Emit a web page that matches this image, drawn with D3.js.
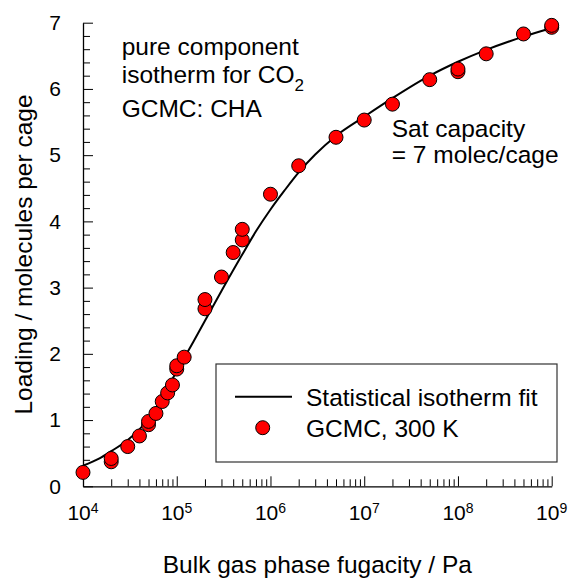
<!DOCTYPE html>
<html>
<head>
<meta charset="utf-8">
<script src="https://cdn.jsdelivr.net/npm/d3@7"></script>
<style>
  html, body { margin: 0; padding: 0; background: #fff; }
  svg { display: block; font-family: "Liberation Sans", Arial, sans-serif; }
</style>
</head>
<body>
<svg id="chart" width="573" height="582"></svg>
<script>
// GCMC simulation points: bulk fugacity (Pa) and loading (molecules per cage)
const gcmcFugacity = [1e4, 2e4, 2e4, 3e4, 4e4, 5e4, 5e4, 6e4, 7e4, 8e4, 9e4,
  1e5, 1e5, 1.2e5, 2e5, 2e5, 3e5, 4e5, 5e5, 5e5, 1e6, 2e6, 5e6, 1e7, 2e7,
  5e7, 1e8, 1e8, 2e8, 5e8, 1e9, 1e9];
const gcmcLoading = [0.21, 0.37, 0.42, 0.60, 0.76, 0.93, 0.98, 1.10, 1.28, 1.41, 1.53,
  1.77, 1.82, 1.95, 2.68, 2.82, 3.16, 3.53, 3.72, 3.88, 4.41, 4.84, 5.27, 5.53, 5.77,
  6.14, 6.26, 6.30, 6.53, 6.83, 6.93, 6.96];

// Statistical isotherm fit curve
const fitFugacity = [1e4, 1.5e4, 2e4, 3e4, 4e4, 5e4, 7e4, 1e5, 1.5e5, 2e5, 3e5, 5e5,
  7e5, 1e6, 1.4e6, 2e6, 3e6, 5e6, 1e7, 2e7, 5e7, 1e8, 2e8, 5e8, 1e9];
const fitLoading = [0.31, 0.42, 0.53, 0.70, 0.86, 1.02, 1.33, 1.74, 2.18, 2.50, 2.95, 3.50,
  3.85, 4.18, 4.46, 4.74, 5.01, 5.29, 5.58, 5.86, 6.20, 6.41, 6.59, 6.79, 6.92];

const xMajorExponents = [4, 5, 6, 7, 8, 9];
const yTickValues = [0, 1, 2, 3, 4, 5, 6, 7];

const svg = d3.select("#chart");
const x = d3.scaleLog().domain([1e4, 1e9]).range([83, 551.7]);
const y = d3.scaleLinear().domain([0, 7]).range([486.3, 22.7]);

// minor ticks: 2..9 within each decade, and every 0.2 on the loading axis
const xMinor = [];
for (let e = 4; e < 9; e++) for (let m = 2; m <= 9; m++) xMinor.push(m * Math.pow(10, e));
const yMinor = d3.range(0, 7.001, 0.2).filter(v => Math.abs(v - Math.round(v)) > 1e-6);

const axisColor = "#000";
const textFont = 24.5;

// x axis
const gx = svg.append("g").attr("transform", `translate(0,${y(0)})`);
gx.call(d3.axisBottom(x).tickValues(xMinor).tickSizeInner(-7).tickSizeOuter(0).tickFormat(""));
const gxMajor = svg.append("g").attr("transform", `translate(0,${y(0)})`);
gxMajor.call(d3.axisBottom(x).tickValues(xMajorExponents.map(e => Math.pow(10, e)))
  .tickSizeInner(-10).tickSizeOuter(0).tickFormat(""));
[gx, gxMajor].forEach(g => {
  g.select(".domain").attr("stroke", axisColor).attr("stroke-width", 1.3);
  g.selectAll(".tick line").attr("stroke", axisColor).attr("stroke-width", 1);
});
gxMajor.select(".domain").remove();

// x tick labels with superscript exponents
const xLabels = svg.append("g").attr("font-size", 21).attr("fill", "#000");
xMajorExponents.forEach(e => {
  const t = xLabels.append("text")
    .attr("x", x(Math.pow(10, e)))
    .attr("y", 520)
    .attr("text-anchor", "middle");
  t.append("tspan").text("10");
  t.append("tspan").attr("font-size", 14).attr("dy", -7).text(String(e));
});

// y axis
const gy = svg.append("g").attr("transform", `translate(${x(1e4)},0)`);
gy.call(d3.axisLeft(y).tickValues(yMinor).tickSizeInner(-7).tickSizeOuter(0).tickFormat(""));
const gyMajor = svg.append("g").attr("transform", `translate(${x(1e4)},0)`);
gyMajor.call(d3.axisLeft(y).tickValues(yTickValues).tickSizeInner(-10).tickSizeOuter(0)
  .tickPadding(22).tickFormat(d3.format("d")));
[gy, gyMajor].forEach(g => {
  g.select(".domain").attr("stroke", axisColor).attr("stroke-width", 1.3);
  g.selectAll(".tick line").attr("stroke", axisColor).attr("stroke-width", 1);
});
gyMajor.select(".domain").remove();
gyMajor.selectAll(".tick text")
  .attr("font-size", 21).attr("fill", "#000")
  .attr("font-family", "'Liberation Sans', Arial, sans-serif");

// axis titles
svg.append("text")
  .attr("x", (x.range()[0] + x.range()[1]) / 2)
  .attr("y", 573)
  .attr("text-anchor", "middle")
  .attr("font-size", textFont)
  .text("Bulk gas phase fugacity / Pa");

svg.append("text")
  .attr("transform", `translate(32,${(y(0) + y(7)) / 2}) rotate(-90)`)
  .attr("text-anchor", "middle")
  .attr("font-size", textFont)
  .text("Loading / molecules per cage");

// fit curve
const line = d3.line()
  .x((d, i) => x(fitFugacity[i]))
  .y((d, i) => y(fitLoading[i]))
  .curve(d3.curveMonotoneX);
svg.append("path")
  .datum(fitLoading)
  .attr("d", line)
  .attr("fill", "none")
  .attr("stroke", "#000")
  .attr("stroke-width", 2);

// GCMC points
svg.append("g")
  .selectAll("circle")
  .data(gcmcLoading)
  .join("circle")
  .attr("cx", (d, i) => x(gcmcFugacity[i]))
  .attr("cy", d => y(d))
  .attr("r", 7)
  .attr("fill", "#ff0000")
  .attr("stroke", "#000")
  .attr("stroke-width", 1);

// annotations
const ann = svg.append("g").attr("font-size", textFont).attr("fill", "#000");
ann.append("text").attr("x", 121.7).attr("y", 55).text("pure component");
const co2 = ann.append("text").attr("x", 121.7).attr("y", 82.7);
co2.append("tspan").text("isotherm for CO");
co2.append("tspan").attr("font-size", 17).attr("dy", 8).text("2");
ann.append("text").attr("x", 121.7).attr("y", 117.3).text("GCMC: CHA");
ann.append("text").attr("x", 391.7).attr("y", 136.7).text("Sat capacity");
ann.append("text").attr("x", 391.7).attr("y", 162.7).text("= 7 molec/cage");

// legend
const legend = svg.append("g");
legend.append("rect")
  .attr("x", 216).attr("y", 364).attr("width", 341).attr("height", 98)
  .attr("fill", "#fff").attr("stroke", "#333").attr("stroke-width", 1.2);
legend.append("line")
  .attr("x1", 235).attr("x2", 292).attr("y1", 396.7).attr("y2", 396.7)
  .attr("stroke", "#000").attr("stroke-width", 2);
legend.append("circle")
  .attr("cx", 262.7).attr("cy", 427.7).attr("r", 7)
  .attr("fill", "#ff0000").attr("stroke", "#000").attr("stroke-width", 1);
legend.append("text").attr("x", 306).attr("y", 406).attr("font-size", textFont)
  .text("Statistical isotherm fit");
legend.append("text").attr("x", 306).attr("y", 436.7).attr("font-size", textFont)
  .text("GCMC, 300 K");
</script>
</body>
</html>
